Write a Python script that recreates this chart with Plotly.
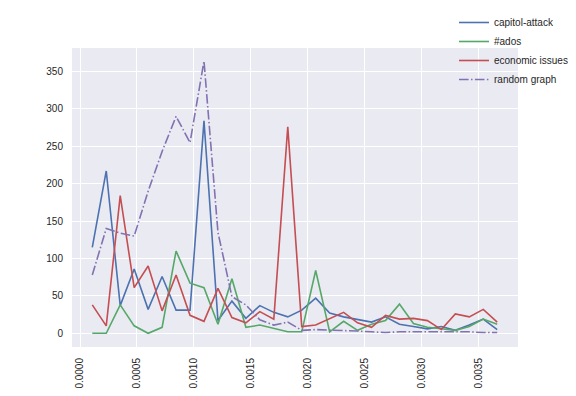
import plotly.graph_objects as go

BLUE = "#4C72B0"
GREEN = "#55A868"
RED = "#C44E52"
PURPLE = "#8172B2"
BG = "#EAEAF2"
TEXT = "#262626"

x_vals = [0.000108, 0.0002307, 0.0003534, 0.0004761, 0.0005988, 0.0007215,
          0.0008442, 0.0009669, 0.0010896, 0.0012123, 0.001335, 0.0014577,
          0.0015804, 0.0017031, 0.0018258, 0.0019485, 0.0020712, 0.0021939,
          0.0023166, 0.0024393, 0.002562, 0.0026847, 0.0028074, 0.0029301,
          0.0030528, 0.0031755, 0.0032982, 0.0034209, 0.0035436, 0.0036663]

capitol_attack = [115, 217, 37, 86, 32, 76, 31, 31, 284, 17, 43, 20, 37, 28, 22,
                  31, 47, 27, 22, 19, 15, 22, 12, 9, 6, 9, 4, 11, 19, 5]
ados = [0, 0, 38, 10, 0, 8, 110, 67, 61, 12, 73, 8, 11, 6, 2,
        2, 84, 2, 16, 4, 12, 17, 39, 13, 8, 6, 4, 9, 19, 12]
economic_issues = [38, 10, 184, 61, 90, 30, 78, 24, 16, 60, 21, 14, 29, 19, 276,
                   9, 11, 19, 28, 14, 8, 24, 19, 20, 17, 5, 26, 22, 32, 15]
random_graph = [78, 140, 134, 130, 190, 243, 290, 255, 364, 135, 49, 38, 18, 11, 15,
                4, 5, 4, 4, 3, 2, 1, 2, 2, 2, 3, 2, 2, 1, 1]

series = [
    ("capitol-attack", capitol_attack, BLUE, "solid"),
    ("#ados", ados, GREEN, "solid"),
    ("economic issues", economic_issues, RED, "solid"),
    ("random graph", random_graph, PURPLE, "9.6px,2.4px,1.5px,2.4px"),
]

fig = go.Figure()
for name, vals, color, dash in series:
    fig.add_trace(go.Scatter(x=x_vals, y=vals, mode="lines", name=name,
                             line=dict(color=color, width=1.6, dash=dash)))

# the page body adds an 8px offset, so the figure is 8px smaller each way
fig.update_layout(
    width=568, height=388,
    margin=dict(l=64, r=58, t=40, b=49, autoexpand=False),
    paper_bgcolor="white", plot_bgcolor=BG,
    font=dict(family="Liberation Sans, Arial", size=10, color=TEXT),
    showlegend=True,
    legend=dict(x=0.8565, xanchor="left", y=1.1338, yanchor="top",
                bgcolor="rgba(0,0,0,0)", font=dict(size=10, color=TEXT),
                tracegroupgap=0),
)
fig.update_xaxes(range=[-0.0000703, 0.003849], tick0=0, dtick=0.0005,
                 tickformat=".4f", tickangle=-90, showgrid=True,
                 gridcolor="white", gridwidth=1, zeroline=False, automargin=False,
                 ticks="outside", ticklen=6, tickcolor="rgba(0,0,0,0)")
fig.update_yaxes(range=[-18.3, 381.4], tick0=0, dtick=50, showgrid=True,
                 gridcolor="white", gridwidth=1, zeroline=False, automargin=False,
                 ticks="outside", ticklen=6, tickcolor="rgba(0,0,0,0)")

fig.write_html("out.html")
